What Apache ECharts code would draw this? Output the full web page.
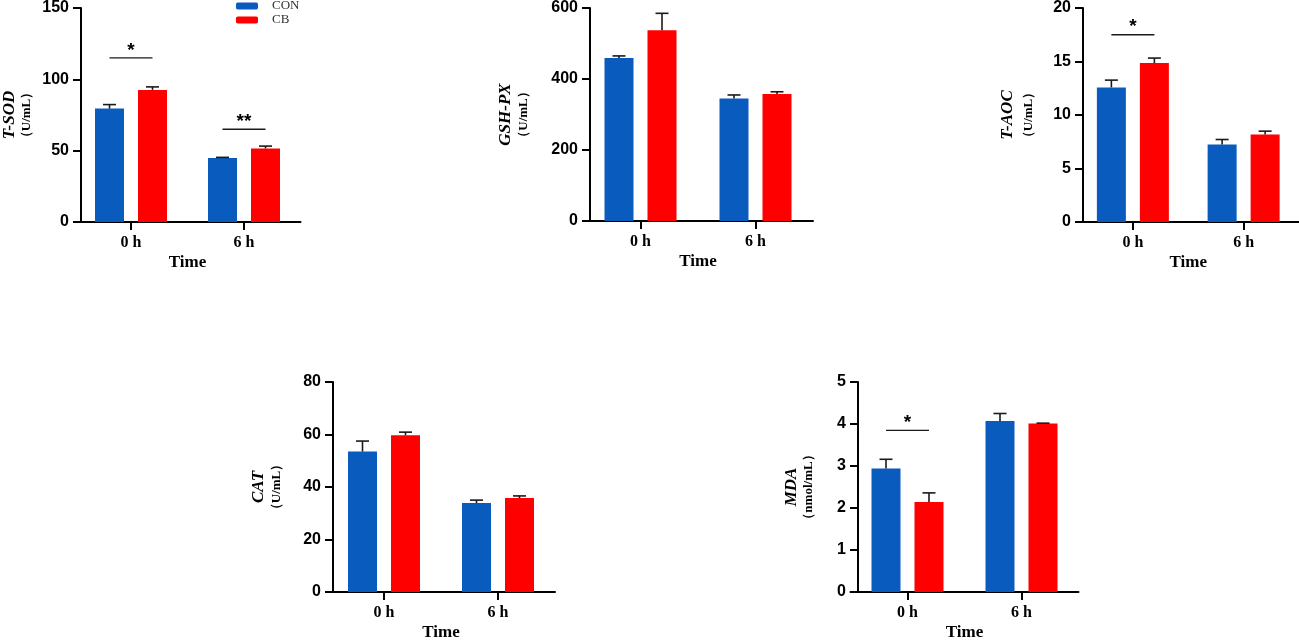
<!DOCTYPE html>
<html>
<head>
<meta charset="utf-8">
<script src="https://cdn.jsdelivr.net/npm/echarts@6/dist/echarts.min.js"></script>
<style>html,body{margin:0;padding:0;background:#fff;}#c{width:1299px;height:642px;}</style>
</head>
<body>
<div id="c"></div>
<script>
// ---- data ----
const categories = ['0 h', '6 h'];
const seriesNames = ['CON', 'CB'];

const tsodCON = [79.5, 44.9];
const tsodCONsem = [2.8, 0.4];
const tsodCB = [92.6, 51.6];
const tsodCBsem = [2.1, 1.6];
const tsodSig = ['*', '**'];
const tsodSigY = [115, 65];

const gshCON = [459, 345];
const gshCONsem = [6, 10];
const gshCB = [537, 358];
const gshCBsem = [48, 6];
const gshSig = [];
const gshSigY = [];

const taocCON = [12.58, 7.24];
const taocCONsem = [0.68, 0.47];
const taocCB = [14.85, 8.18];
const taocCBsem = [0.47, 0.31];
const taocSig = ['*'];
const taocSigY = [17.5];

const catCON = [53.5, 33.9];
const catCONsem = [4.0, 1.1];
const catCB = [59.7, 35.8];
const catCBsem = [1.2, 0.8];
const catSig = [];
const catSigY = [];

const mdaCON = [2.94, 4.07];
const mdaCONsem = [0.22, 0.18];
const mdaCB = [2.14, 4.01];
const mdaCBsem = [0.22, 0.01];
const mdaSig = ['*'];
const mdaSigY = [3.85];

const yTitles = ['T-SOD', 'GSH-PX', 'T-AOC', 'CAT', 'MDA'];
const yUnits = ['（U/mL）', '（U/mL）', '（U/mL）', '（U/mL）', '（nmol/mL）'];
const yMax = [150, 600, 20, 80, 5];
const yInterval = [50, 200, 5, 20, 1];

// ---- layout / style ----
const BLUE = '#0A5BBE';
const RED = '#FF0000';
const BAR_W = 29;
const BAR_GAP_PX = 14;
const OFFSET = (BAR_W + BAR_GAP_PX) / 2;

const grids = [
  {left: 72.5, top: 7, width: 228, height: 215},
  {left: 583, top: 7, width: 230, height: 214},
  {left: 1077.5, top: 8, width: 228, height: 214},
  {left: 327, top: 382, width: 228, height: 214},
  {left: 850.5, top: 382, width: 228, height: 214}
];
const yOffsets = [-6.5, -7, -5.5, -6, -7.5];
const nameGaps = [45, 57, 45, 47, 40];
const titleLH = [17, 18, 24, 18, 17];

const panels = [
  {con: tsodCON, conSem: tsodCONsem, cb: tsodCB, cbSem: tsodCBsem, sig: tsodSig, sigY: tsodSigY},
  {con: gshCON, conSem: gshCONsem, cb: gshCB, cbSem: gshCBsem, sig: gshSig, sigY: gshSigY},
  {con: taocCON, conSem: taocCONsem, cb: taocCB, cbSem: taocCBsem, sig: taocSig, sigY: taocSigY},
  {con: catCON, conSem: catCONsem, cb: catCB, cbSem: catCBsem, sig: catSig, sigY: catSigY},
  {con: mdaCON, conSem: mdaCONsem, cb: mdaCB, cbSem: mdaCBsem, sig: mdaSig, sigY: mdaSigY}
];

const axisLine = {show: true, lineStyle: {color: '#000', width: 2}};
const xAxes = [], yAxes = [], series = [];

function errRender(params, api) {
  const cat = api.value(0), v = api.value(1), s = api.value(2), side = api.value(3);
  const p0 = api.coord([cat, v]);
  const p1 = api.coord([cat, v + s]);
  const x = p0[0] + side * OFFSET;
  const st = {stroke: '#1a1a1a', lineWidth: 1.6};
  return {type: 'group', children: [
    {type: 'line', shape: {x1: x, y1: p0[1], x2: x, y2: p1[1]}, style: st},
    {type: 'line', shape: {x1: x - 6.5, y1: p1[1], x2: x + 6.5, y2: p1[1]}, style: st}
  ]};
}

panels.forEach((p, i) => {
  xAxes.push({
    type: 'category', gridIndex: i, data: categories,
    axisLine: axisLine,
    axisTick: {show: true, alignWithLabel: true, length: 8, lineStyle: {color: '#000', width: 2}},
    axisLabel: {margin: 13, color: '#000', fontFamily: 'Liberation Serif', fontWeight: 'bold', fontSize: 16},
    name: 'Time', nameLocation: 'middle', nameGap: 32,
    nameTextStyle: {color: '#000', fontFamily: 'Liberation Serif', fontWeight: 'bold', fontSize: 17}
  });
  yAxes.push({
    type: 'value', gridIndex: i, min: 0, max: yMax[i], interval: yInterval[i],
    offset: yOffsets[i],
    splitLine: {show: false},
    axisLine: axisLine,
    axisTick: {show: true, length: 8, lineStyle: {color: '#000', width: 2}},
    axisLabel: {margin: 12, color: '#000', fontFamily: 'Liberation Sans', fontWeight: 'bold', fontSize: 16},
    name: '{a|' + yTitles[i] + '}\n{b|' + yUnits[i] + '}',
    nameLocation: 'middle', nameRotate: 90, nameGap: nameGaps[i],
    nameTextStyle: {
      color: '#000',
      rich: {
        a: {fontFamily: 'Liberation Serif', fontStyle: 'italic', fontWeight: 'bold', fontSize: 17, lineHeight: titleLH[i], color: '#000'},
        b: {fontFamily: 'Liberation Serif', fontWeight: 'bold', fontSize: 13, lineHeight: 18, color: '#000'}
      }
    }
  });
  series.push({
    name: seriesNames[0], type: 'bar', xAxisIndex: i, yAxisIndex: i,
    data: p.con, barWidth: BAR_W, barGap: (BAR_GAP_PX / BAR_W * 100) + '%',
    itemStyle: {color: BLUE}
  });
  series.push({
    name: seriesNames[1], type: 'bar', xAxisIndex: i, yAxisIndex: i,
    data: p.cb, barWidth: BAR_W, barGap: (BAR_GAP_PX / BAR_W * 100) + '%',
    itemStyle: {color: RED}
  });
  const errData = [];
  p.con.forEach((v, k) => errData.push([k, v, p.conSem[k], -1]));
  p.cb.forEach((v, k) => errData.push([k, v, p.cbSem[k], 1]));
  series.push({
    type: 'custom', xAxisIndex: i, yAxisIndex: i, z: 5,
    data: errData, renderItem: errRender, silent: true
  });
  if (p.sig.length) {
    const sigData = p.sigY.map((y, k) => [k, y]);
    const labels = p.sig;
    series.push({
      type: 'custom', xAxisIndex: i, yAxisIndex: i, z: 5, silent: true,
      data: sigData,
      renderItem: function (params, api) {
        const c = api.coord([api.value(0), api.value(1)]);
        return {type: 'group', children: [
          {type: 'line', shape: {x1: c[0] - OFFSET, y1: c[1], x2: c[0] + OFFSET, y2: c[1]},
           style: {stroke: '#1a1a1a', lineWidth: 1.3}},
          {type: 'text', x: c[0], y: c[1] + 2,
           style: {text: labels[params.dataIndex], fill: '#000', fontFamily: 'Liberation Sans', fontWeight: 'bold',
                   fontSize: 19, align: 'center', verticalAlign: 'bottom'}}
        ]};
      }
    });
  }
});

const chart = echarts.init(document.getElementById('c'), null, {renderer: 'canvas'});
chart.setOption({
  animation: false,
  backgroundColor: '#fff',
  legend: {
    data: seriesNames, orient: 'vertical', left: 236, top: -0.5, padding: 0,
    itemWidth: 22, itemHeight: 7, itemGap: 1,
    textStyle: {fontFamily: 'Liberation Serif', fontSize: 13, color: '#333', padding: [0, 0, 0, 9]}
  },
  grid: grids,
  xAxis: xAxes,
  yAxis: yAxes,
  series: series
});
</script>
</body>
</html>
